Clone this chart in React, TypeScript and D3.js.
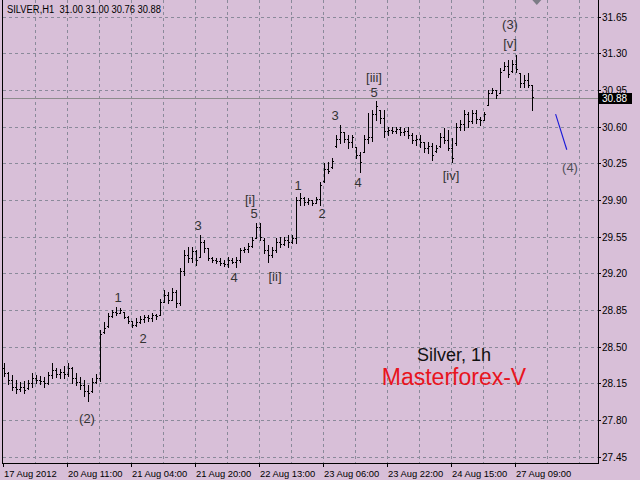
import React from 'react';
import * as d3 from 'd3';

const opens = [
  28.30, 28.25, 28.18, 28.12, 28.10, 28.12, 28.11, 28.15, 28.20, 28.18, 28.17, 28.15, 28.23, 28.28, 28.24, 28.26, 28.24, 28.30, 28.20, 28.16, 28.13, 28.08, 28.08, 28.16, 28.20,
  28.64, 28.70, 28.79, 28.83, 28.82, 28.83, 28.78, 28.75, 28.71, 28.74, 28.76, 28.78, 28.77, 28.80, 28.80, 28.93, 28.99, 28.95, 29.02, 28.92, 29.22, 29.38, 29.35, 29.41, 29.36,
  29.50, 29.44, 29.35, 29.33, 29.32, 29.30, 29.29, 29.33, 29.31, 29.33, 29.42, 29.43, 29.46, 29.54, 29.64, 29.52, 29.42, 29.38, 29.42, 29.50, 29.48, 29.52, 29.50, 29.54,
  29.90, 29.92, 29.88, 29.90, 29.87, 29.91, 30.08, 30.20, 30.22, 30.42, 30.48, 30.55, 30.48, 30.45, 30.41, 30.33, 30.36, 30.48, 30.50, 30.72, 30.76, 30.68, 30.56,
  30.57, 30.56, 30.58, 30.55, 30.56, 30.52, 30.47, 30.48, 30.45, 30.40, 30.42, 30.37, 30.42, 30.50, 30.47, 30.40, 30.44, 30.60, 30.63, 30.72, 30.65, 30.73, 30.67, 30.66, 30.81,
  30.92, 30.95, 30.92, 31.14, 31.18, 31.13, 31.20, 31.11, 31.02, 31.05, 31.00,
];
const highs = [
  28.34, 28.26, 28.23, 28.18, 28.16, 28.17, 28.18, 28.25, 28.23, 28.22, 28.21, 28.26, 28.34, 28.30, 28.29, 28.32, 28.34, 28.31, 28.25, 28.21, 28.18, 28.13, 28.20, 28.24, 28.66,
  28.74, 28.82, 28.85, 28.88, 28.87, 28.83, 28.79, 28.75, 28.77, 28.79, 28.80, 28.80, 28.82, 28.81, 28.96, 29.04, 29.02, 29.06, 29.04, 29.25, 29.42, 29.45, 29.45, 29.42, 29.57,
  29.52, 29.44, 29.36, 29.35, 29.35, 29.33, 29.36, 29.35, 29.36, 29.44, 29.45, 29.49, 29.55, 29.68, 29.68, 29.54, 29.47, 29.45, 29.54, 29.55, 29.55, 29.57, 29.57, 29.93,
  29.97, 29.93, 29.92, 29.90, 29.93, 30.07, 30.25, 30.26, 30.30, 30.52, 30.62, 30.55, 30.52, 30.52, 30.41, 30.36, 30.52, 30.73, 30.76, 30.85, 30.76, 30.76, 30.60,
  30.60, 30.60, 30.60, 30.59, 30.60, 30.54, 30.52, 30.52, 30.45, 30.45, 30.44, 30.43, 30.54, 30.59, 30.57, 30.49, 30.64, 30.66, 30.76, 30.74, 30.76, 30.76, 30.69, 30.74, 30.95,
  30.97, 30.95, 31.16, 31.22, 31.24, 31.24, 31.28, 31.11, 31.09, 31.11, 31.00,
];
const lows = [
  28.22, 28.14, 28.09, 28.06, 28.08, 28.06, 28.10, 28.12, 28.15, 28.14, 28.12, 28.14, 28.20, 28.21, 28.20, 28.20, 28.22, 28.15, 28.13, 28.10, 28.03, 27.98, 28.07, 28.15, 28.17,
  28.63, 28.69, 28.78, 28.80, 28.82, 28.77, 28.73, 28.69, 28.70, 28.73, 28.74, 28.75, 28.75, 28.76, 28.80, 28.93, 28.92, 28.95, 28.88, 28.90, 29.18, 29.31, 29.31, 29.28, 29.36,
  29.40, 29.33, 29.31, 29.30, 29.28, 29.27, 29.26, 29.30, 29.26, 29.31, 29.40, 29.40, 29.45, 29.54, 29.52, 29.39, 29.31, 29.36, 29.40, 29.45, 29.47, 29.45, 29.49, 29.49,
  29.85, 29.85, 29.86, 29.85, 29.87, 29.85, 30.07, 30.16, 30.21, 30.41, 30.44, 30.45, 30.40, 30.41, 30.30, 30.17, 30.36, 30.44, 30.46, 30.66, 30.64, 30.50, 30.52,
  30.54, 30.54, 30.52, 30.52, 30.49, 30.44, 30.43, 30.41, 30.36, 30.35, 30.28, 30.36, 30.41, 30.44, 30.38, 30.26, 30.43, 30.57, 30.57, 30.60, 30.64, 30.64, 30.62, 30.66, 30.81,
  30.92, 30.87, 30.92, 31.14, 31.07, 31.12, 31.12, 30.98, 30.98, 30.98, 30.76,
];
const closes = [
  28.25, 28.18, 28.12, 28.10, 28.12, 28.09, 28.15, 28.20, 28.18, 28.17, 28.15, 28.23, 28.28, 28.24, 28.26, 28.24, 28.30, 28.20, 28.16, 28.13, 28.08, 28.06, 28.16, 28.20, 28.62,
  28.68, 28.79, 28.83, 28.82, 28.85, 28.78, 28.75, 28.71, 28.74, 28.76, 28.78, 28.77, 28.80, 28.79, 28.93, 28.99, 28.95, 29.02, 28.92, 29.22, 29.38, 29.35, 29.41, 29.33, 29.50,
  29.44, 29.35, 29.33, 29.32, 29.30, 29.29, 29.33, 29.31, 29.33, 29.42, 29.43, 29.46, 29.52, 29.64, 29.55, 29.42, 29.38, 29.42, 29.50, 29.48, 29.52, 29.50, 29.54, 29.90,
  29.92, 29.88, 29.90, 29.87, 29.91, 30.04, 30.20, 30.18, 30.27, 30.48, 30.55, 30.48, 30.45, 30.50, 30.33, 30.26, 30.48, 30.50, 30.72, 30.80, 30.68, 30.56, 30.57,
  30.56, 30.58, 30.55, 30.56, 30.52, 30.47, 30.48, 30.45, 30.40, 30.42, 30.33, 30.40, 30.50, 30.47, 30.40, 30.30, 30.60, 30.63, 30.72, 30.65, 30.73, 30.67, 30.66, 30.72, 30.92,
  30.95, 30.90, 31.12, 31.18, 31.10, 31.20, 31.15, 31.02, 31.05, 31.00, 30.88,
];

const dateLabels = ['17 Aug 2012', '20 Aug 11:00', '21 Aug 04:00', '21 Aug 20:00', '22 Aug 13:00', '23 Aug 06:00', '23 Aug 22:00', '24 Aug 15:00', '27 Aug 09:00'];
const dateLabelBars = [0, 16, 32, 48, 64, 80, 96, 112, 128];
const priceTicks = [31.65, 31.30, 30.95, 30.60, 30.25, 29.90, 29.55, 29.20, 28.85, 28.50, 28.15, 27.80, 27.45];
const lastPrice = 30.88;

const waveTexts = ['(2)', '1', '2', '3', '4', '5', '[i]', '[ii]', '1', '2', '3', '4', '5', '[iii]', '[iv]', '[v]', '(3)', '(4)'];
const waveBars = [20.75, 28.5, 34.75, 48.5, 57.5, 62.5, 61.5, 67.75, 73.5, 79.5, 82.75, 88.5, 92.5, 92.5, 111.75, 126.5, 126.5, 141.5];
const wavePrices = [27.77, 28.93, 28.54, 29.61, 29.12, 29.73, 29.86, 29.13, 30.0, 29.73, 30.66, 30.02, 30.88, 31.03, 30.09, 31.35, 31.53, 30.17];

const forecastBars = [137.9, 140.7];
const forecastPrices = [30.72, 30.38];

export default function App() {
  const W = 640, H = 480;
  const left = 3, right = 598, bottom = 463;
  const y = d3.scaleLinear().domain([27.45, 31.65]).range([456.7, 16.7]);
  const x = d3.scaleLinear().domain([0, 132]).range([4, 532]);
  const gridBars = d3.range(8, 150, 8).filter((b) => x(b) - 1 < right - 2);
  const bg = '#D8BFD8';
  const gridColor = '#8A8A9A';
  const font = "'Liberation Sans', Arial, sans-serif";
  const fl = Math.round;
  const lastY = fl(y(lastPrice)) + 1;
  const title = `SILVER,H1\u00A0\u00A0${opens[132].toFixed(2)} ${highs[132].toFixed(2)} ${lows[132].toFixed(2)} ${closes[132].toFixed(2)}`;

  return (
    <div style={{ position: 'absolute', left: 0, top: 0, width: W, height: H }}>
      <svg width={W} height={H} style={{ display: 'block' }} fontFamily={font}>
        <rect x={0} y={0} width={W} height={H} fill={bg} />
        {/* grid */}
        <g shapeRendering="crispEdges" stroke={gridColor} strokeDasharray="3,3">
          {priceTicks.map((t) => (
            <line key={'h' + t} x1={left} x2={right} y1={fl(y(t)) + 0.5} y2={fl(y(t)) + 0.5} />
          ))}
          {gridBars.map((b) => (
            <line key={'v' + b} x1={fl(x(b)) - 1 + 0.5} x2={fl(x(b)) - 1 + 0.5} y1={0} y2={bottom} />
          ))}
        </g>
        {/* last price line */}
        <line x1={left} x2={right} y1={lastY + 0.5} y2={lastY + 0.5} stroke="#8C8C8C" shapeRendering="crispEdges" />
        {/* bars */}
        <g fill="#000" shapeRendering="crispEdges">
          {highs.map((h, i) => {
            const px = fl(x(i));
            const yh = fl(y(h));
            const yl = fl(y(lows[i]));
            return (
              <g key={i}>
                <rect x={px} y={yh} width={1} height={Math.max(1, yl - yh + 1)} />
                <rect x={px - 1} y={fl(y(opens[i]))} width={1} height={1} />
                <rect x={px + 1} y={fl(y(closes[i]))} width={1} height={1} />
              </g>
            );
          })}
        </g>
        {/* forecast line */}
        <line x1={x(forecastBars[0])} y1={y(forecastPrices[0])} x2={x(forecastBars[1])} y2={y(forecastPrices[1])} stroke="#1818D8" strokeWidth={1.1} />
        {/* wave labels */}
        <g fontSize={13} textAnchor="middle">
          {waveTexts.map((t, i) => (
            <text key={i} x={x(waveBars[i])} y={y(wavePrices[i])} fill={t === '(4)' ? '#505058' : '#333333'}>{t}</text>
          ))}
        </g>
        {/* watermark text */}
        <text x={454} y={361} fontSize={18} textAnchor="middle" fill="#111">Silver, 1h</text>
        <text x={454} y={385} fontSize={23} textAnchor="middle" fill="#E8141E">Masterforex-V</text>
        {/* borders */}
        <g stroke="#000" shapeRendering="crispEdges">
          <line x1={left - 0.5} x2={left - 0.5} y1={0} y2={bottom + 1} />
          <line x1={right + 0.5} x2={right + 0.5} y1={0} y2={bottom + 1} />
          <line x1={left - 1} x2={right + 1} y1={bottom + 0.5} y2={bottom + 0.5} />
          {priceTicks.map((t) => (
            <line key={'pt' + t} x1={right} x2={right + 3} y1={fl(y(t)) + 0.5} y2={fl(y(t)) + 0.5} />
          ))}
          {dateLabelBars.map((b) => (
            <line key={'dt' + b} x1={fl(x(b)) - 1 + 0.5} x2={fl(x(b)) - 1 + 0.5} y1={bottom} y2={bottom + 4} />
          ))}
        </g>
        {/* axis labels */}
        <g fill="#000">
          {priceTicks.map((t) => (
            <text key={'pl' + t} x={602} y={fl(y(t)) + 4} fontSize={10}>{t.toFixed(2)}</text>
          ))}
          {dateLabels.map((d, i) => (
            <text key={'dl' + i} x={fl(x(dateLabelBars[i]))} y={477} fontSize={9.4}>{d}</text>
          ))}
        </g>
        {/* last price tag */}
        <rect x={599} y={lastY - 5} width={33} height={11} fill="#000" />
        <text x={602} y={lastY + 4} fontSize={10} fill="#fff">{lastPrice.toFixed(2)}</text>
        {/* title */}
        <text x={7} y={13} fontSize={10} fill="#000" textLength={154} lengthAdjust="spacingAndGlyphs">{title}</text>
        {/* shift marker */}
        <path d={`M${x(133.2) - 4.5},0 L${x(133.2) + 4.5},0 L${x(133.2)},5 Z`} fill="#7C7C86" />
      </svg>
    </div>
  );
}
